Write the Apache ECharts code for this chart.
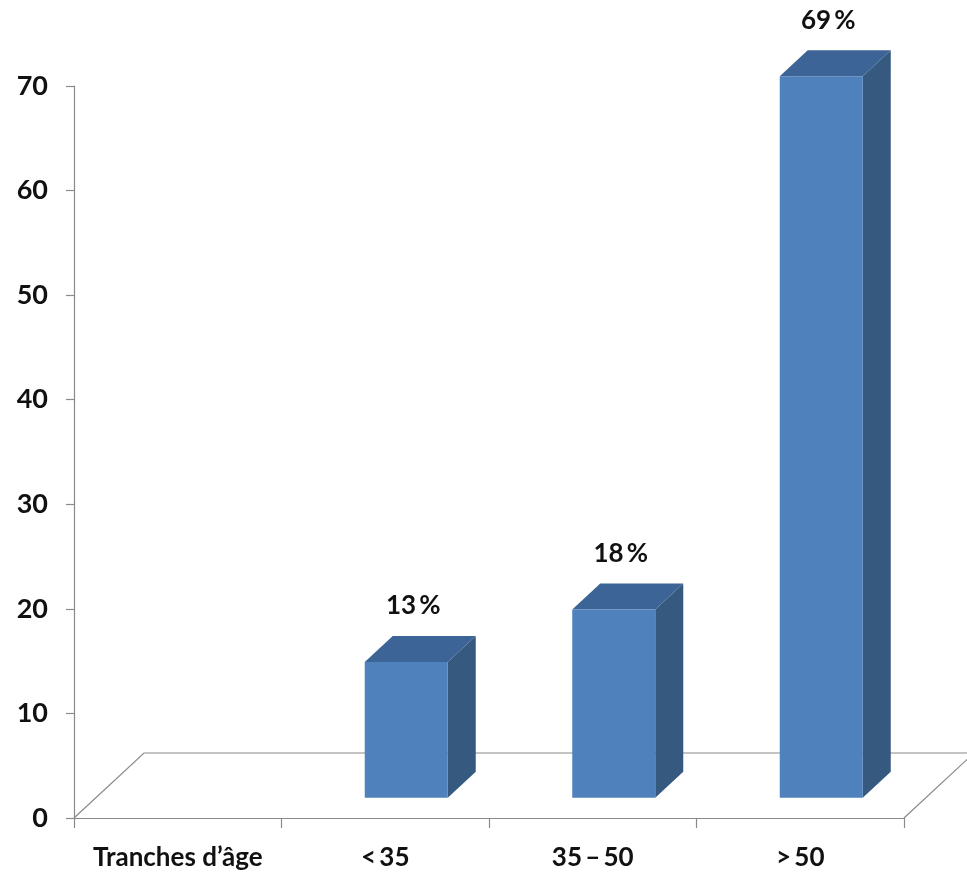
<!DOCTYPE html>
<html>
<head>
<meta charset="utf-8">
<script src="https://cdn.jsdelivr.net/npm/echarts@6/dist/echarts.min.js"></script>
<style>
  html, body { margin: 0; padding: 0; background: #ffffff; }
  #chart { width: 967px; height: 877px; }
</style>
</head>
<body>
<div id="chart"></div>
<script>
// Age groups and share of patients (%)
var categories = ['Tranches d\u2019âge', '<\u200935', '35\u2009\u2013\u200950', '>\u200950'];
var values = [null, 13, 18, 69];
var valueLabels = ['', '13\u2009%', '18\u2009%', '69\u2009%'];
var yTicks = { min: 0, max: 70, interval: 10 };

var FONT = 'Lato, "Open Sans", sans-serif';
var LINE = '#8a8a8a';
// depth of the floor in pixels (oblique projection)
var DEPTH_X = 70, DEPTH_Y = -65;
var FRONT = '#4f81bd', SIDE = '#36597f', TOP = '#3d6497';

var chart = echarts.init(document.getElementById('chart'), null, { renderer: 'canvas' });

function renderFloor(params, api) {
  var cs = params.coordSys;
  var y0 = api.coord([0, 0])[1];
  var left = cs.x, right = cs.x + cs.width;
  return {
    type: 'polyline',
    shape: { points: [[left, y0], [left + DEPTH_X, y0 + DEPTH_Y], [right + DEPTH_X, y0 + DEPTH_Y], [right, y0]] },
    style: { stroke: LINE, lineWidth: 1.2, fill: null },
    silent: true
  };
}

function renderBar(params, api) {
  var idx = api.value(0);
  var v = api.value(1);
  if (v == null || isNaN(v)) return null;
  var catW = api.size([1, 0])[0];
  var base = api.coord([idx, 0]);
  var top = api.coord([idx, v]);
  var w = catW * 0.4;
  // front face sits 30% into the floor depth, the bar is 40% deep
  var ox = DEPTH_X * 0.3, oy = DEPTH_Y * 0.31;
  var dx = DEPTH_X * 0.4, dy = DEPTH_Y * 0.4;
  var x0 = base[0] - w / 2 + ox, x1 = x0 + w;
  var yb = base[1] + oy, yt = top[1] + oy;
  var label = valueLabels[params.dataIndex];
  return {
    type: 'group',
    children: [
      { type: 'polygon', shape: { points: [[x1, yb], [x1 + dx, yb + dy], [x1 + dx, yt + dy], [x1, yt]] }, style: { fill: SIDE } },
      { type: 'polygon', shape: { points: [[x0, yt], [x0 + dx, yt + dy], [x1 + dx, yt + dy], [x1, yt]] }, style: { fill: TOP } },
      { type: 'rect', shape: { x: x0, y: yt, width: w, height: yb - yt }, style: { fill: FRONT } },
      { type: 'text', style: { text: label, x: (x0 + x1) / 2 + 7, y: yt + dy - 30, align: 'center', verticalAlign: 'middle', font: 'bold 26px ' + FONT, fill: '#111' } }
    ]
  };
}

chart.setOption({
  animation: false,
  backgroundColor: '#ffffff',
  grid: { left: 74, right: 63, top: 86, bottom: 59, containLabel: false },
  xAxis: {
    type: 'category',
    data: categories,
    boundaryGap: true,
    axisLine: { show: true, lineStyle: { color: LINE, width: 1.2 } },
    axisTick: { show: true, length: 10, lineStyle: { color: LINE, width: 1.2 } },
    axisLabel: { color: '#111', fontSize: 26, fontWeight: 'bold', fontFamily: FONT, margin: 27, interval: 0 },
    splitLine: { show: false }
  },
  yAxis: {
    type: 'value',
    min: yTicks.min, max: yTicks.max, interval: yTicks.interval,
    axisLine: { show: true, lineStyle: { color: LINE, width: 1.2 } },
    axisTick: { show: true, length: 8, lineStyle: { color: LINE, width: 1.2 } },
    axisLabel: { color: '#111', fontSize: 27, fontWeight: 'bold', fontFamily: FONT, margin: 26 },
    splitLine: { show: false }
  },
  series: [
    { type: 'custom', renderItem: renderFloor, data: [[0, 0]], z: 1, silent: true },
    { type: 'custom', renderItem: renderBar, data: values.map(function (v, i) { return [i, v]; }), z: 2 }
  ]
});
</script>
</body>
</html>
